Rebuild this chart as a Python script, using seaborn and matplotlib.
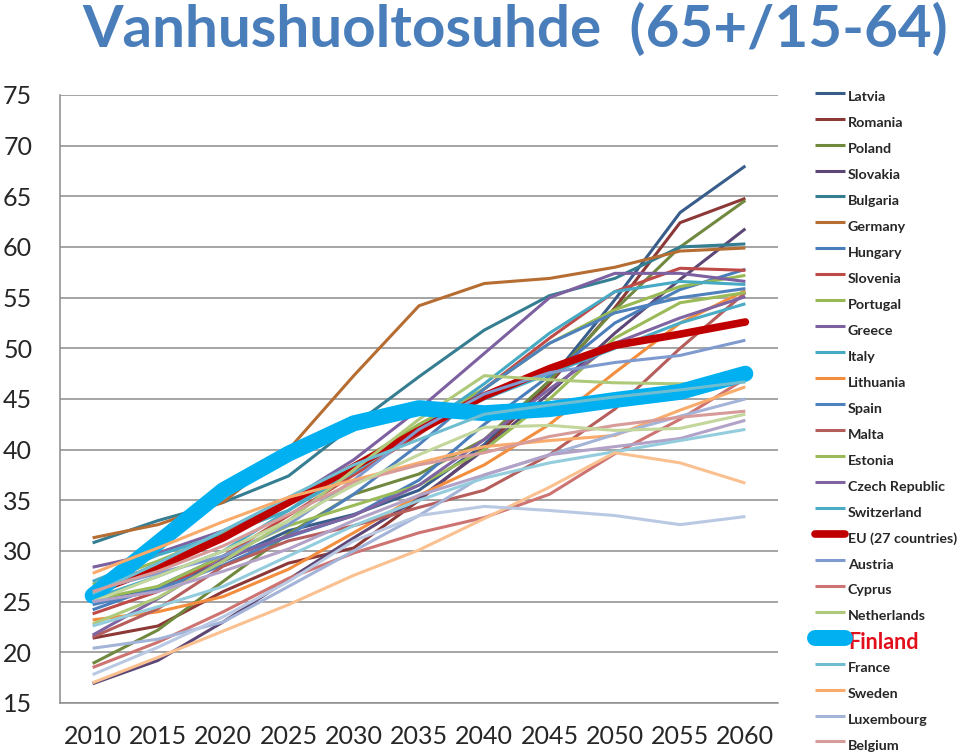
import matplotlib
matplotlib.use("Agg")
import matplotlib.pyplot as plt
import seaborn as sns
import pandas as pd

years = [2010, 2015, 2020, 2025, 2030, 2035, 2040, 2045, 2050, 2055, 2060]

latvia      = [25.2, 26.3, 29.0, 32.0, 33.6, 36.0, 40.5, 46.8, 54.8, 63.4, 68.0]
romania     = [21.4, 22.6, 26.0, 28.8, 30.3, 35.0, 40.2, 46.5, 54.0, 62.4, 64.8]
poland      = [18.9, 22.2, 27.0, 31.7, 35.6, 37.6, 41.0, 46.8, 53.8, 60.0, 64.6]
slovakia    = [16.9, 19.2, 23.0, 27.2, 31.3, 35.2, 40.0, 45.6, 51.5, 56.8, 61.8]
bulgaria    = [30.8, 33.0, 34.8, 37.4, 42.4, 47.2, 51.8, 55.2, 56.9, 60.0, 60.3]
germany     = [31.3, 32.6, 34.8, 40.0, 47.3, 54.2, 56.4, 56.9, 58.0, 59.6, 59.9]
hungary     = [24.2, 26.5, 29.5, 31.4, 33.5, 37.0, 42.5, 47.3, 52.5, 55.8, 57.8]
slovenia    = [23.8, 26.0, 29.5, 33.5, 37.5, 41.5, 46.0, 51.0, 55.6, 57.9, 57.7]
portugal    = [26.7, 29.0, 31.7, 35.0, 38.5, 42.5, 46.0, 50.5, 53.8, 56.1, 57.2]
greece      = [28.4, 29.8, 32.0, 35.0, 39.0, 44.0, 49.5, 55.0, 57.4, 57.4, 56.6]
italy       = [27.0, 29.6, 31.6, 34.0, 37.8, 42.0, 46.5, 51.5, 55.6, 56.6, 56.3]
lithuania   = [23.2, 24.0, 25.5, 28.2, 31.8, 35.5, 38.5, 42.5, 47.6, 52.5, 55.7]
spain       = [24.7, 26.2, 28.6, 31.5, 35.6, 40.5, 46.0, 50.5, 53.5, 55.0, 55.9]
malta       = [21.5, 24.3, 28.5, 31.0, 32.5, 34.3, 36.0, 39.5, 44.0, 50.0, 55.5]
estonia     = [25.2, 26.5, 29.5, 32.5, 34.5, 36.5, 40.0, 45.0, 51.0, 54.5, 55.5]
czech       = [21.7, 25.3, 29.2, 31.5, 33.5, 36.5, 41.0, 46.0, 50.5, 53.0, 55.1]
switzerland = [25.3, 27.5, 30.0, 34.0, 38.5, 42.0, 45.0, 47.5, 50.0, 52.5, 54.4]
eu27        = [25.9, 28.4, 31.3, 34.8, 38.3, 41.9, 45.3, 48.0, 50.3, 51.4, 52.6]
austria     = [26.1, 27.8, 29.5, 32.6, 37.0, 42.0, 45.5, 47.6, 48.6, 49.3, 50.8]
cyprus      = [18.5, 21.0, 24.0, 27.3, 29.8, 31.8, 33.3, 35.6, 39.6, 43.0, 47.0]
netherlands = [22.8, 25.4, 29.0, 33.0, 38.0, 43.0, 47.3, 46.9, 46.6, 46.5, 46.7]
finland     = [25.6, 30.8, 36.0, 39.6, 42.6, 44.1, 43.6, 44.0, 44.9, 45.7, 47.5]
france      = [25.8, 28.8, 32.0, 35.3, 38.5, 41.0, 43.5, 44.4, 45.2, 45.9, 46.7]
sweden      = [27.8, 30.3, 32.9, 35.3, 37.0, 38.7, 40.3, 40.9, 41.4, 43.9, 46.2]
luxembourg  = [20.4, 21.3, 23.0, 26.5, 30.0, 33.5, 37.5, 39.5, 41.5, 43.3, 45.0]
belgium     = [26.0, 28.0, 30.5, 33.6, 36.8, 38.5, 39.7, 41.3, 42.4, 43.2, 43.8]
denmark     = [25.0, 27.5, 30.0, 33.0, 36.5, 39.5, 42.2, 42.4, 41.9, 42.1, 43.5]
uk          = [25.0, 26.0, 28.0, 30.2, 33.0, 35.5, 37.5, 39.5, 40.3, 41.1, 42.9]
norway      = [22.6, 24.5, 26.5, 29.5, 32.5, 35.0, 37.2, 38.7, 39.8, 40.9, 42.0]
ireland     = [17.0, 19.5, 22.1, 24.7, 27.6, 30.1, 33.2, 36.3, 39.7, 38.7, 36.7]
iceland     = [17.8, 20.5, 23.5, 27.0, 31.0, 33.5, 34.4, 34.0, 33.5, 32.6, 33.4]

countries = ["Latvia", "Romania", "Poland", "Slovakia", "Bulgaria", "Germany",
             "Hungary", "Slovenia", "Portugal", "Greece", "Italy", "Lithuania",
             "Spain", "Malta", "Estonia", "Czech Republic", "Switzerland",
             "EU (27 countries)", "Austria", "Cyprus", "Netherlands", "Finland",
             "France", "Sweden", "Luxembourg", "Belgium",
             "Denmark", "United Kingdom", "Norway", "Ireland", "Iceland"]
series = [latvia, romania, poland, slovakia, bulgaria, germany, hungary, slovenia,
          portugal, greece, italy, lithuania, spain, malta, estonia, czech,
          switzerland, eu27, austria, cyprus, netherlands, finland, france, sweden,
          luxembourg, belgium, denmark, uk, norway, ireland, iceland]
legend_count = 26

colors = ["#385D8A", "#8C3836", "#71893F", "#5C4776", "#357D91", "#B66D31",
          "#4A7EBB", "#BE4B48", "#98B954", "#7D60A0", "#46AAC5", "#F28E3E",
          "#4F81BD", "#B65E5C", "#9BBB59", "#8064A2", "#4BACC6",
          "#C00000", "#7F9ACF", "#CD7371", "#AFC97A", "#00B0F0",
          "#6FBDD1", "#F9AB6B", "#A4B4D8", "#D79B9A",
          "#C3D69B", "#B3A2C7", "#93CDDD", "#FAC090", "#B9C9E3"]

rows = []
for name, vals in zip(countries, series):
    for yr, v in zip(years, vals):
        rows.append({"country": name, "year": yr, "value": v})
df = pd.DataFrame(rows)

sns.set_style("white")
plt.rcParams["font.family"] = ["Lato", "DejaVu Sans"]

fig = plt.figure(figsize=(9.6, 7.56), dpi=100)
ax = fig.add_axes([60 / 960, 1 - 703 / 756, (778 - 60) / 960, (703 - 95) / 756])

for name, col in zip(countries, colors):
    sub = df[df["country"] == name]
    if name == "Finland":
        lw, cap = 11.5, "round"
    elif name.startswith("EU"):
        lw, cap = 5.5, "round"
    else:
        lw, cap = 2.2, "butt"
    sns.lineplot(data=sub, x="year", y="value", color=col, linewidth=lw,
                 solid_capstyle=cap, solid_joinstyle="round", ax=ax,
                 label=name, legend=False, errorbar=None)

ax.set_xlim(2007.5, 2062.5)
ax.set_ylim(15, 75)
ax.set_yticks(range(15, 80, 5))
ax.set_yticklabels([str(v) for v in range(15, 80, 5)])
ax.yaxis.grid(True, color="#8C8C8C", linewidth=1.1)
ax.xaxis.grid(False)
ax.set_axisbelow(True)

ax.set_xticks([2007.5 + 5 * i for i in range(12)])
ax.set_xticklabels([])
ax.set_xticks(years, minor=True)
ax.set_xticklabels([str(y) for y in years], minor=True)
ax.tick_params(axis="x", which="major", length=6, width=1.1, color="#8C8C8C", direction="out")
ax.tick_params(axis="x", which="minor", length=0, pad=16, labelsize=18)
ax.tick_params(axis="y", which="major", length=4, width=1.1, color="#8C8C8C", direction="out",
               pad=16, labelsize=18)
ax.set_xlabel("")
ax.set_ylabel("")
for s in ["top", "right"]:
    ax.spines[s].set_visible(False)
for s in ["left", "bottom"]:
    ax.spines[s].set_color("#8C8C8C")
    ax.spines[s].set_linewidth(1.1)

fig.text(515 / 960, 1 - 30 / 756, "Vanhushuoltosuhde  (65+/15-64)", ha="center", va="center",
         fontsize=42, fontweight="bold", color="#4A7EBB")

handles = ax.get_lines()[:legend_count]
labels = countries[:legend_count]
leg = fig.legend(handles, labels, loc="upper left",
                 bbox_to_anchor=(815 / 960, 1 - 84 / 756),
                 frameon=False, handlelength=2.1, handleheight=2.414,
                 labelspacing=0.0, handletextpad=0.2, borderpad=0, borderaxespad=0,
                 prop={"weight": "bold", "size": 10.3})

# Finland's legend label is larger and red; keep the row height uniform by
# drawing the big label over the (hidden) normal-size slot.
fig.canvas.draw()
renderer = fig.canvas.get_renderer()
for t in leg.get_texts():
    if t.get_text() == "Finland":
        bb = t.get_window_extent(renderer)
        t.set_visible(False)
        yc = (bb.y0 + bb.y1) / 2
        fig.text(bb.x0 / fig.bbox.width, yc / fig.bbox.height, "Finland",
                 ha="left", va="center", fontsize=15.5, fontweight="bold",
                 color="#E2101B")

fig.savefig("out.png", dpi=100)
